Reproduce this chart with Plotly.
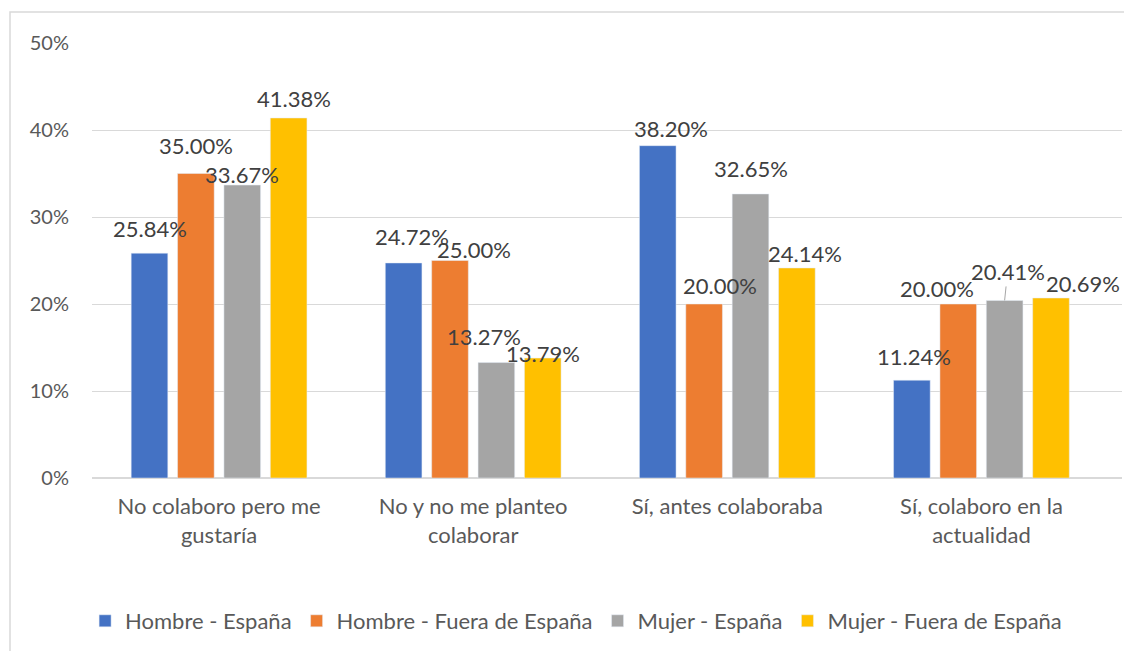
import plotly.graph_objects as go

# Respuestas y porcentajes por grupo
categorias = ["No colaboro pero me<br>gustaría", "No y no me planteo<br>colaborar",
              "Sí, antes colaboraba", "Sí, colaboro en la<br>actualidad"]
series = ["Hombre - España", "Hombre - Fuera de España", "Mujer - España", "Mujer - Fuera de España"]
hombre_espana = [0.2584, 0.2472, 0.3820, 0.1124]
hombre_fuera = [0.3500, 0.2500, 0.2000, 0.2000]
mujer_espana = [0.3367, 0.1327, 0.3265, 0.2041]
mujer_fuera = [0.4138, 0.1379, 0.2414, 0.2069]
colores = ["#4472C4", "#ED7D31", "#A5A5A5", "#FFC000"]

# label placement (pixels), like Excel's adjusted data labels
label_dx = [[0, 8, 13, 2], [0, 24, 16, -21], [0, -12, 0, 3], [5, 0, 8, 32]]
label_dy = [[25, 26, 17, 24], [28, 11, 19, 16], [11, 26, 25, 29], [19, 5, 14, 15]]

bargap, bargroupgap = 0.27, 0.21
slot = (1 - bargap) / len(series)

fig = go.Figure()
annotations = []
for j, (nombre, valores, color) in enumerate(zip(series, [hombre_espana, hombre_fuera, mujer_espana, mujer_fuera], colores)):
    fig.add_trace(go.Bar(x=categorias, y=valores, name=nombre, marker_color=color))
    for i, v in enumerate(valores):
        xpos = i + (j - 1.5) * slot
        leader = (j == 2 and i == 3)
        ann = dict(x=xpos, y=v, xref="x", yref="y", text=f"{v:.2%}",
                   font=dict(size=22, color="#404040"), yanchor="middle")
        if leader:
            ann.update(showarrow=True, arrowhead=0, arrowwidth=1, arrowcolor="#A6A6A6",
                       ax=label_dx[j][i], ay=-label_dy[j][i], standoff=0)
        else:
            ann.update(showarrow=False, xshift=label_dx[j][i], yshift=label_dy[j][i])
        annotations.append(ann)

# the page body adds an 8px offset, so positions are set 8px up/left
W, H = 1132, 651
ml, mt = 84, 35
pw, ph = 1030, 435
mr, mb = W - ml - pw, H - mt - ph

fig.update_layout(
    width=W, height=H,
    margin=dict(l=ml, r=mr, t=mt, b=mb),
    paper_bgcolor="white", plot_bgcolor="white",
    font=dict(family="Lato, Liberation Sans, sans-serif", size=20, color="#595959"),
    barmode="group", bargap=bargap, bargroupgap=bargroupgap,
    showlegend=True,
    legend=dict(orientation="h", x=0.47, xanchor="center", y=-143 / ph, yanchor="middle",
                font=dict(size=22, color="#595959"), itemwidth=30, tracegroupgap=0),
    xaxis=dict(showline=False, ticks="", ticklabelstandoff=13,
               tickfont=dict(size=22, color="#595959")),
    yaxis=dict(range=[0, 0.5], dtick=0.1, tickformat=".0%", showgrid=True,
               gridcolor="#D9D9D9", gridwidth=1, zeroline=True, zerolinecolor="#D9D9D9",
               ticks="", ticklabelstandoff=22, tickfont=dict(size=20, color="#595959")),
    annotations=annotations,
    shapes=[dict(type="rect", xref="paper", yref="paper",
                 x0=(2 - ml) / pw, x1=(1140 - ml) / pw,
                 y0=-(H - mt - ph + 20) / ph, y1=1 + (mt - 4) / ph,
                 line=dict(color="#D9D9D9", width=1.5), fillcolor="rgba(0,0,0,0)", layer="below")],
)

fig.write_html("out.html")
